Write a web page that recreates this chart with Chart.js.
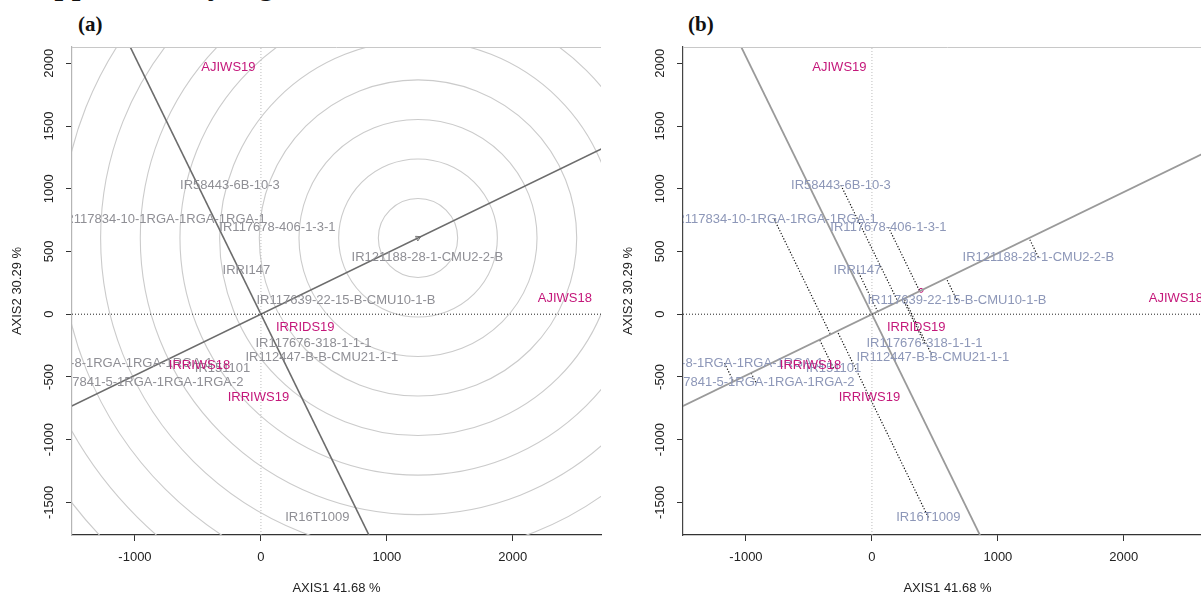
<!DOCTYPE html>
<html lang="en">
<head>
<meta charset="UTF-8" />
<title>GGE biplots | rice trials</title>
<script src="https://cdn.jsdelivr.net/npm/chart.js"></script>
<style>
    html, body { margin: 0; padding: 0; background: #fff; overflow: hidden; }
    .sheet { position: relative; width: 1201px; height: 597px; overflow: hidden; background: #fff; }
    .heading { position: absolute; left: 20px; top: -34px; line-height: 1; white-space: nowrap;
               font: bold 31px "Liberation Serif", "Times New Roman", serif; color: #111; }
    .tag { position: absolute; top: 12px; line-height: 1;
           font: bold 21px "Liberation Serif", "Times New Roman", serif; color: #111; }
    .panel { position: absolute; top: 0; }
</style>
</head>
<body>
<div class="sheet">
    <div class="heading">Supplementary Figure</div>
    <div class="tag" style="left:78px">(a)</div>
    <div class="tag" style="left:688px">(b)</div>
    <canvas id="rankChart" class="panel" style="left:0" width="606" height="597"></canvas>
    <canvas id="meanStabChart" class="panel" style="left:611px" width="606" height="597"></canvas>
</div>

<script>
// axis settings
const xRange = [-1500, 2700];
const yRange = [-1760, 2130];
const xTicks = [-1000, 0, 1000, 2000];
const yTicks = [-1500, -1000, -500, 0, 500, 1000, 1500, 2000];

// environment scores (AXIS1, AXIS2)
const envNames = ['AJIWS19', 'AJIWS18', 'IRRIDS19', 'IRRIWS18', 'IRRIWS19'];
const envX = [-258, 2413, 352, -488, -20];
const envY = [1969, 128, -104, -405, -662];

// genotype scores (AXIS1, AXIS2)
const genoNames = [
    'IR58443-6B-10-3',
    'IR117834-10-1RGA-1RGA-1RGA-1',
    'IR117678-406-1-3-1',
    'IRRI147',
    'IR121188-28-1-CMU2-2-B',
    'IR117639-22-15-B-CMU10-1-B',
    'IR117676-318-1-1-1',
    'IR112447-B-B-CMU21-1-1',
    'IR117836-8-1RGA-1RGA-1RGA-1',
    'IR151101',
    'IR117841-5-1RGA-1RGA-1RGA-2',
    'IR16T1009'
];
const genoX = [-246, -775, 131, -115, 1321, 675, 417, 484, -1170, -305, -923, 448];
const genoY = [1028, 755, 693, 351, 456, 112, -231, -343, -391, -430, -542, -1620];

// average environment coordinate, defines the AEA
const avgEnv = [390, 190];
// spacing of the concentric rings around the ideal genotype
const ringStep = 315;

const FONT = '"Liberation Sans", Arial, sans-serif';
const envColor = '#c4177a';

// unit vector of the average environment axis
const aeaLen = Math.hypot(avgEnv[0], avgEnv[1]);
const aea = [avgEnv[0] / aeaLen, avgEnv[1] / aeaLen];
const far = 10000;

function foot(px, py) {
    const t = px * aea[0] + py * aea[1];
    return { x: t * aea[0], y: t * aea[1] };
}

// ideal genotype: longest projection on the AEA
const bestT = Math.max(...genoX.map((gx, i) => gx * aea[0] + genoY[i] * aea[1]));
const ideal = { x: bestT * aea[0], y: bestT * aea[1] };

const genoPoints = genoX.map((gx, i) => ({ x: gx, y: genoY[i] }));
const envPoints = envX.map((ex, i) => ({ x: ex, y: envY[i] }));

function seg(data, color, width, dash) {
    return { data, showLine: true, borderColor: color, borderWidth: width, borderDash: dash || [],
             pointRadius: 0, fill: false, order: 2 };
}

// text labels centred on the points, clipped to the plot region
const pointLabels = {
    id: 'pointLabels',
    afterDatasetsDraw(chart) {
        const { ctx, chartArea: a, scales: { x, y } } = chart;
        ctx.save();
        ctx.beginPath();
        ctx.rect(a.left, a.top, a.right - a.left, a.bottom - a.top);
        ctx.clip();
        ctx.font = '13px ' + FONT;
        ctx.textAlign = 'center';
        ctx.textBaseline = 'middle';
        chart.data.datasets.forEach(ds => {
            if (!ds.names) return;
            ctx.fillStyle = ds.textColor;
            ds.data.forEach((p, j) => {
                ctx.fillText(ds.names[j], x.getPixelForValue(p.x), y.getPixelForValue(p.y));
            });
        });
        ctx.restore();
    }
};

// light top edge of the box
const frameTop = {
    id: 'frameTop',
    afterDraw(chart) {
        const { ctx, chartArea: a } = chart;
        ctx.save();
        ctx.strokeStyle = '#c8c8c8';
        ctx.lineWidth = 1;
        ctx.beginPath();
        ctx.moveTo(a.left, a.top + 0.5);
        ctx.lineTo(a.right, a.top + 0.5);
        ctx.stroke();
        ctx.restore();
    }
};

// concentric circles around the ideal genotype
const rings = {
    id: 'rings',
    beforeDatasetsDraw(chart) {
        const { ctx, chartArea: a, scales: { x, y } } = chart;
        const cx = x.getPixelForValue(ideal.x), cy = y.getPixelForValue(ideal.y);
        const kx = Math.abs(x.getPixelForValue(ringStep) - x.getPixelForValue(0));
        const ky = Math.abs(y.getPixelForValue(ringStep) - y.getPixelForValue(0));
        ctx.save();
        ctx.beginPath();
        ctx.rect(a.left, a.top, a.right - a.left, a.bottom - a.top);
        ctx.clip();
        ctx.strokeStyle = '#cbcbcb';
        ctx.lineWidth = 1.1;
        for (let k = 1; k <= 12; k++) {
            ctx.beginPath();
            ctx.ellipse(cx, cy, kx * k, ky * k, 0, 0, Math.PI * 2);
            ctx.stroke();
        }
        ctx.restore();
    }
};

function makeScales(leftEdge) {
    return {
        x: {
            type: 'linear', position: 'bottom', min: xRange[0], max: xRange[1],
            afterBuildTicks: s => { s.ticks = xTicks.map(v => ({ value: v })); },
            afterFit: s => { s.height = 62; },
            grid: { drawOnChartArea: false, tickLength: 6, tickColor: '#333', tickWidth: 1 },
            border: { color: '#333', width: 1.2 },
            ticks: { color: '#222', font: { family: FONT, size: 13 }, padding: 9, callback: v => String(v) },
            title: { display: true, text: 'AXIS1 41.68 %', color: '#222',
                     font: { family: FONT, size: 13 }, padding: { top: 0, bottom: 1 } }
        },
        y: {
            type: 'linear', position: 'left', min: yRange[0], max: yRange[1],
            afterBuildTicks: s => { s.ticks = yTicks.map(v => ({ value: v })); },
            afterFit: s => { s.width = 72; },
            grid: { drawOnChartArea: false, tickLength: 6, tickColor: '#333', tickWidth: 1 },
            border: { color: leftEdge, width: 1.2 },
            ticks: { color: '#222', font: { family: FONT, size: 13 }, padding: 0,
                     minRotation: 90, maxRotation: 90, crossAlign: 'center', callback: v => String(v) },
            title: { display: true, text: 'AXIS2 30.29 %', color: '#222',
                     font: { family: FONT, size: 13 }, padding: { top: 10, bottom: 0 } }
        }
    };
}

const baseOptions = (leftEdge) => ({
    responsive: false,
    animation: false,
    events: [],
    layout: { padding: { top: 47, right: 5, bottom: 0, left: 0 } },
    plugins: { legend: { display: false }, tooltip: { enabled: false } },
    scales: makeScales(leftEdge)
});

function axisLines(color, width) {
    return [
        seg([{ x: xRange[0], y: 0 }, { x: xRange[1], y: 0 }], '#222', 1, [1, 2]),
        seg([{ x: 0, y: yRange[0] }, { x: 0, y: yRange[1] }], '#bdbdbd', 1, [1, 2]),
        // average environment axis and its perpendicular through the origin
        seg([{ x: -far * aea[0], y: -far * aea[1] }, { x: far * aea[0], y: far * aea[1] }], color, width),
        seg([{ x: far * aea[1], y: -far * aea[0] }, { x: -far * aea[1], y: far * aea[0] }], color, width)
    ];
}

function labelSets(genoColor) {
    return [
        { data: genoPoints, names: genoNames, textColor: genoColor, pointRadius: 0, order: 1 },
        { data: envPoints, names: envNames, textColor: envColor, pointRadius: 0, order: 0 }
    ];
}

// (a) ranking of genotypes relative to the ideal genotype
new Chart(document.getElementById('rankChart'), {
    type: 'scatter',
    data: {
        datasets: [
            ...axisLines('#6c6c6c', 1.6),
            { data: [ideal], pointStyle: 'triangle', rotation: 90 - Math.atan2(aea[1], aea[0]) * 180 / Math.PI,
              pointRadius: 3, borderColor: '#777', backgroundColor: 'rgba(0,0,0,0)', borderWidth: 1, order: 2 },
            ...labelSets('#8f8f95')
        ]
    },
    options: baseOptions('#b5b5b5'),
    plugins: [rings, pointLabels, frameTop]
});

// (b) mean vs. stability: genotype projections onto the AEA
const projections = genoPoints.map(p => seg([p, foot(p.x, p.y)], '#111', 1.2, [1.2, 1.8]));

new Chart(document.getElementById('meanStabChart'), {
    type: 'scatter',
    data: {
        datasets: [
            ...axisLines('#9a9a9a', 1.8),
            ...projections,
            { data: [{ x: avgEnv[0], y: avgEnv[1] }], pointStyle: 'circle', pointRadius: 2,
              borderColor: envColor, backgroundColor: 'rgba(0,0,0,0)', borderWidth: 1, order: 2 },
            ...labelSets('#8d97b8')
        ]
    },
    options: baseOptions('#444'),
    plugins: [pointLabels, frameTop]
});
</script>
</body>
</html>
